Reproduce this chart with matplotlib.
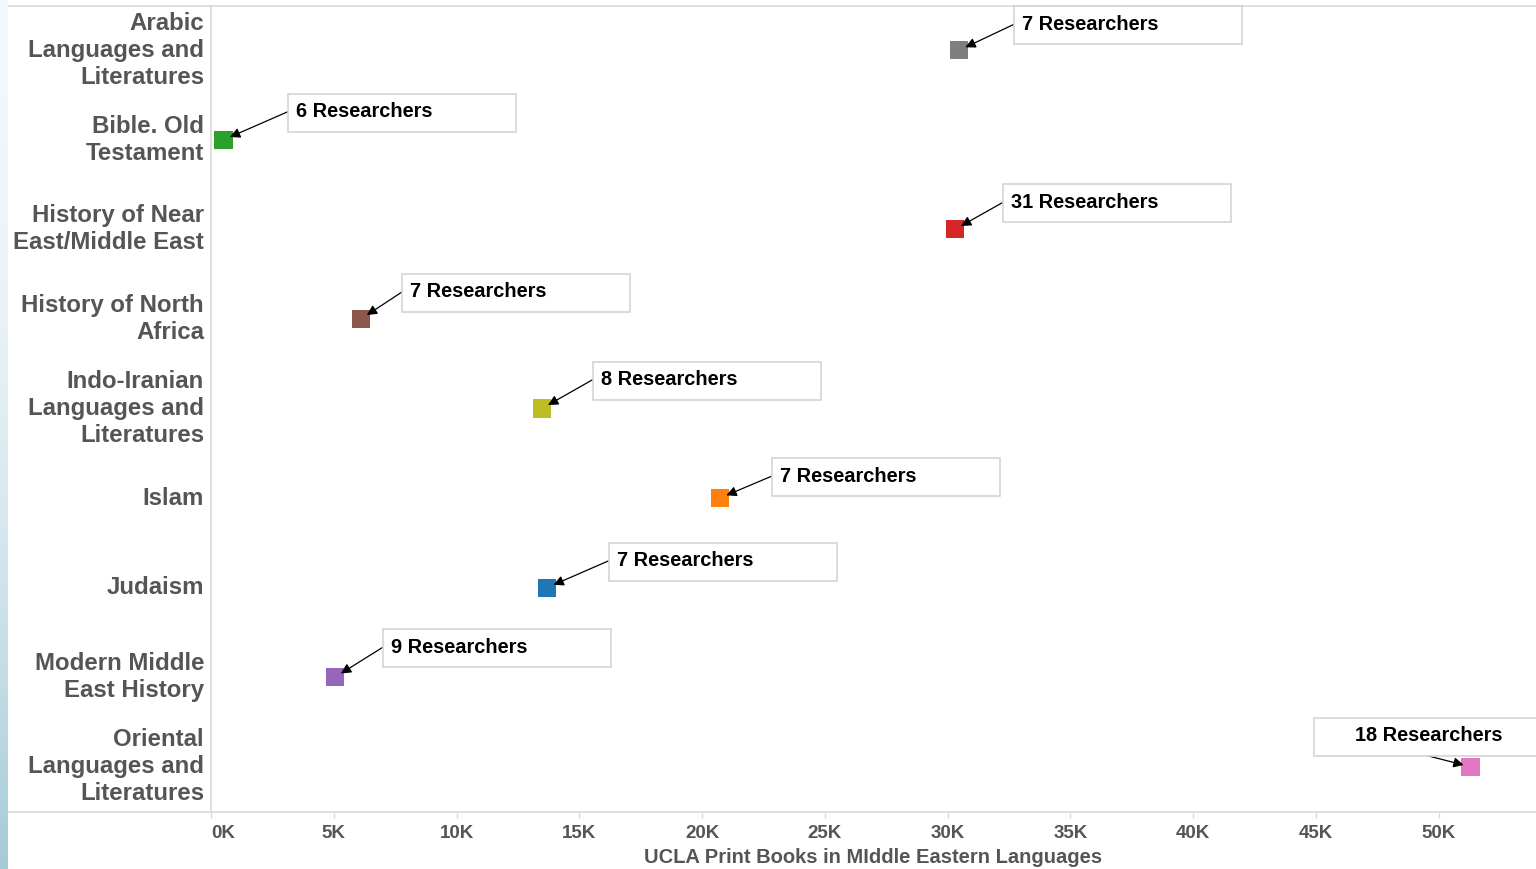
import numpy as np
import matplotlib.pyplot as plt
from matplotlib.patches import Rectangle
from matplotlib.lines import Line2D
from matplotlib.transforms import IdentityTransform

plt.rcParams['font.family'] = ['Liberation Sans', 'DejaVu Sans']

# --- data ---
subjects = [
    "Arabic\nLanguages and\nLiteratures",
    "Bible. Old\nTestament",
    "History of Near\nEast/Middle East",
    "History of North\nAfrica",
    "Indo-Iranian\nLanguages and\nLiteratures",
    "Islam",
    "Judaism",
    "Modern Middle\nEast History",
    "Oriental\nLanguages and\nLiteratures",
]
books = [30470, 510, 30300, 6110, 13480, 20730, 13690, 5050, 51300]
researchers = [7, 6, 31, 7, 8, 7, 7, 9, 18]
colors = ['#7f7f7f', '#2ca02c', '#d62728', '#8c564b', '#bcbd22',
          '#ff7f0e', '#1f77b4', '#9467bd', '#e377c2']
xticks = list(range(0, 50001, 5000))
xtick_labels = [f"{t // 1000}K" for t in xticks]

# callout box placement relative to marker (pixels: dx to box left, dy to box top, downwards)
box_dx = [55, 64, 48, 41, 51, 52, 62, 48, -156]
box_dy = [-44, -46, -45, -45, -47, -40, -45, -48, -49]
box_style = ['left'] * 8 + ['center']

W, H = 1536, 869
BOX_W, BOX_H = 228, 38
GRAY_TXT = '#555555'
LINE_C = '#d9d9d9'

fig = plt.figure(figsize=(W / 100, H / 100), dpi=100)
ax = fig.add_axes([211 / W, 1 - 811.5 / H, 1 - 211 / W, (811.5 - 5.5) / H])

ypos = np.arange(len(subjects))
ax.scatter(books, ypos, marker='s', s=170, c=colors, linewidths=0, zorder=3)

ax.set_xlim(0, 53970)
ax.set_ylim(len(subjects) - 0.5, -0.5)

for side in ['top', 'right', 'bottom']:
    ax.spines[side].set_visible(False)
ax.spines['left'].set_color(LINE_C)
ax.spines['left'].set_linewidth(1.2)

# top and bottom rules extend left over the label area
for yy in [1.0, 0.0]:
    ax.add_line(Line2D([-(211 - 8) / (W - 211), 1], [yy, yy], transform=ax.transAxes,
                       color=LINE_C, lw=1.2, clip_on=False))

ax.set_xticks(xticks)
ax.set_xticklabels(xtick_labels, fontsize=13.5, fontweight='bold', color=GRAY_TXT)
ax.get_xticklabels()[0].set_ha('left')
ax.tick_params(axis='x', length=4, width=1, color=LINE_C, pad=6)

ax.set_yticks(ypos)
ax.set_yticklabels(subjects, fontsize=17.3, fontweight='bold', color=GRAY_TXT,
                   linespacing=1.23, va='center')
ax.tick_params(axis='y', length=0, pad=5)

ax.set_xlabel("UCLA Print Books in MIddle Eastern Languages", fontsize=14.5,
              fontweight='bold', color=GRAY_TXT, labelpad=4)

# callouts
for v, i, n, dx, dy, st in zip(books, ypos, researchers, box_dx, box_dy, box_style):
    px, py = ax.transData.transform((v, i))
    left = px + dx
    top = py - dy
    rect = Rectangle((left, top - BOX_H), BOX_W, BOX_H, transform=IdentityTransform(),
                     facecolor='white', edgecolor='#d4d4d4', lw=1.2, zorder=4)
    fig.add_artist(rect)
    label = f"{n} Researchers"
    if st == 'left':
        fig.text(left + 8, top - BOX_H / 2 + 1, label, transform=IdentityTransform(),
                 ha='left', va='center', fontsize=14.4, fontweight='bold', color='black', zorder=5)
        start = (left, top - 18)
    else:
        fig.text(left + BOX_W / 2, top - BOX_H / 2 + 1, label, transform=IdentityTransform(),
                 ha='center', va='center', fontsize=14.4, fontweight='bold', color='black', zorder=5)
        start = (left + BOX_W / 2 - 1, top - BOX_H)
    ax.annotate('', xy=(v, i), xytext=start, textcoords='figure pixels',
                arrowprops=dict(arrowstyle='-|>', color='black', lw=0.9,
                                shrinkA=0, shrinkB=5, mutation_scale=15),
                annotation_clip=False, zorder=6)

# light blue strip on the far left
bax = fig.add_axes([0, 0, 8 / W, 1])
t = np.linspace(0, 1, 200) ** 2
top_c = np.array([242, 248, 251]) / 255
bot_c = np.array([165, 202, 216]) / 255
grad = (top_c[None, :] * (1 - t[:, None]) + bot_c[None, :] * t[:, None])[:, None, :]
bax.imshow(grad, aspect='auto', extent=[0, 1, 0, 1], origin='upper')
bax.axis('off')

fig.savefig('out.png', dpi=100)
